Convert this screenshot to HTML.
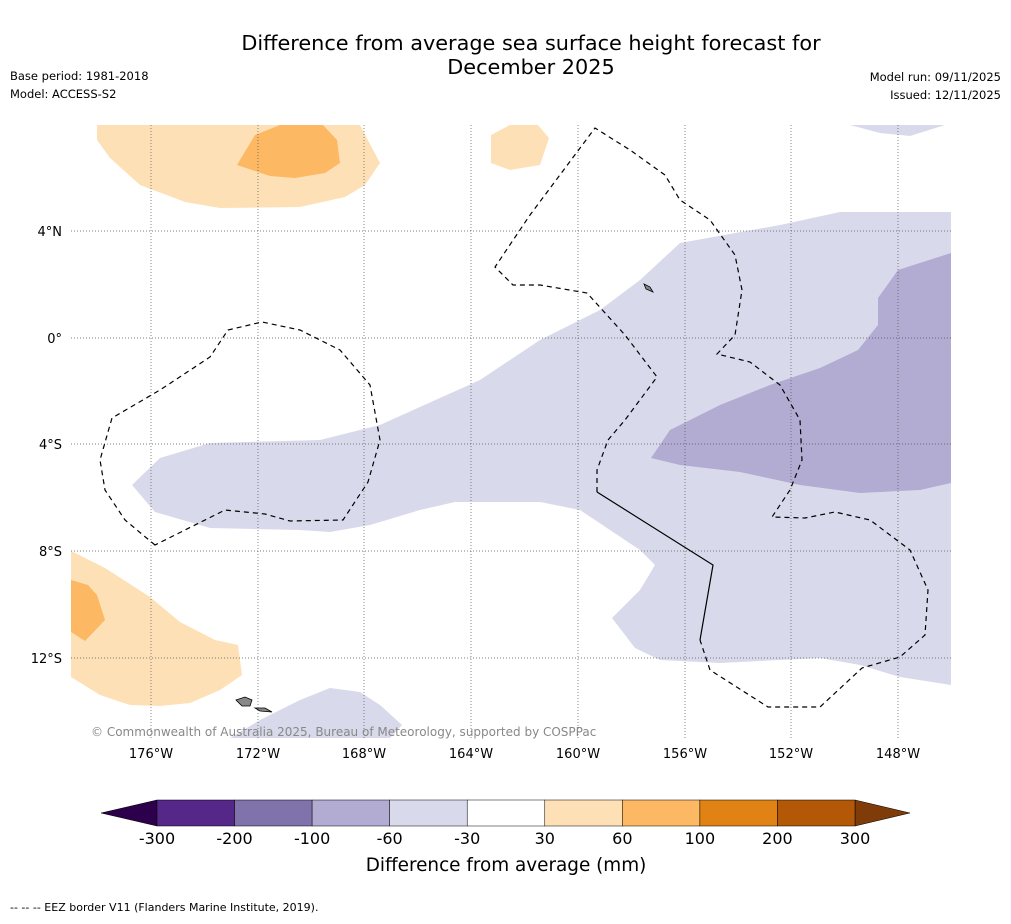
<!DOCTYPE html>
<html><head><meta charset="utf-8"><style>
body{margin:0;background:#fff;font-family:"Liberation Sans","DejaVu Sans",sans-serif;}
</style></head><body>
<svg width="1011" height="919" viewBox="0 0 1011 919" xmlns="http://www.w3.org/2000/svg" font-family="'DejaVu Sans','Liberation Sans',sans-serif">
<rect width="1011" height="919" fill="#fff"/>
<text x="531" y="50" text-anchor="middle" font-size="20.8">Difference from average sea surface height forecast for</text>
<text x="531" y="74" text-anchor="middle" font-size="20.8">December 2025</text>
<text x="10" y="80" font-size="11.5">Base period: 1981-2018</text>
<text x="10" y="98" font-size="11.5">Model: ACCESS-S2</text>
<text x="1001" y="81" font-size="11.5" text-anchor="end">Model run: 09/11/2025</text>
<text x="1001" y="99" font-size="11.5" text-anchor="end">Issued: 12/11/2025</text>
<g>
<clipPath id="mc"><rect x="71" y="125" width="880" height="613"/></clipPath>
<g clip-path="url(#mc)">
<path fill="#d8daeb" d="M132,485 L160,458 L210,443 L320,440 L380,425 L480,380 L540,340 L600,310 L640,280 L680,243 L780,225 L840,212 L951,212 L951,685 L900,677 L860,665 L820,658 L720,663 L660,660 L635,648 L612,618 L640,590 L655,565 L640,550 L610,530 L580,510 L540,502 L455,502 L420,510 L370,525 L330,532 L300,530 L210,528 L155,512 Z M745,567 L752,559 L770,566 L760,569 Z M230,738 L260,720 L300,700 L330,688 L360,692 L380,705 L402,725 L390,738 Z M780,125 L850,125 L880,133 L910,136 L945,125 Z"/>
<path fill="#b2abd2" d="M651,458 L670,430 L720,405 L770,385 L820,368 L858,350 L878,325 L878,298 L898,270 L951,253 L951,483 L920,490 L860,493 L800,485 L740,472 L680,465 Z"/>
<path fill="#fee0b6" d="M97,125 L360,125 L380,163 L365,185 L345,197 L300,207 L220,208 L185,202 L140,185 L110,158 L97,140 Z M491,135 L510,125 L538,125 L549,138 L540,165 L510,170 L491,163 Z M71,551 L105,568 L150,597 L180,622 L215,640 L238,645 L242,675 L220,690 L190,703 L160,706 L130,705 L100,695 L71,677 Z"/>
<path fill="#fdb863" d="M237,165 L255,135 L280,125 L323,125 L337,140 L340,163 L325,173 L295,178 L270,176 Z M71,580 L88,585 L97,595 L105,620 L85,641 L71,632 Z"/>
<g stroke="#555" stroke-width="0.7" stroke-dasharray="1,2">
<line x1="151" y1="125" x2="151" y2="738"/><line x1="258" y1="125" x2="258" y2="738"/><line x1="364" y1="125" x2="364" y2="738"/><line x1="471" y1="125" x2="471" y2="738"/><line x1="578" y1="125" x2="578" y2="738"/><line x1="685" y1="125" x2="685" y2="738"/><line x1="791" y1="125" x2="791" y2="738"/><line x1="898" y1="125" x2="898" y2="738"/>
<line x1="71" y1="231" x2="951" y2="231"/><line x1="71" y1="338" x2="951" y2="338"/><line x1="71" y1="444" x2="951" y2="444"/><line x1="71" y1="551" x2="951" y2="551"/><line x1="71" y1="658" x2="951" y2="658"/>
</g>
<g fill="none" stroke="#000" stroke-width="1.2">
<path stroke-dasharray="5,4" d="M155,545 L125,520 L105,490 L100,460 L112,418 L160,390 L210,357 L228,330 L262,322 L300,330 L340,350 L370,385 L380,440 L368,482 L343,520 L290,521 L265,514 L225,510 Z"/>
<path stroke-dasharray="5,4" d="M597,492 L597,470 L608,440 L625,420 L657,377 L625,335 L587,293 L540,285 L513,285 L495,267 L530,215 L595,128 L630,150 L665,175 L680,200 L710,220 L735,255 L742,290 L735,335 L717,354 L750,362 L780,385 L800,420 L802,460 L790,490 L772,517 L805,518 L835,512 L870,520 L910,550 L928,590 L925,635 L900,657 L862,668 L820,707 L768,707 L710,670 L700,640"/>
<path d="M597,492 L713,565 L700,640"/>
</g>
<g fill="#888" stroke="#000" stroke-width="0.8">
<path d="M236,700 L245,697 L252,700 L250,706 L242,706 Z"/><path d="M255,708 L265,708 L272,712 L260,711 Z"/>
<path d="M644,284 L650,287 L653,292 L646,289 Z"/>
</g>
</g>
<text x="91" y="736" font-size="12" fill="#888">© Commonwealth of Australia 2025, Bureau of Meteorology, supported by COSPPac</text>
</g>
<g font-size="13">
<text x="151" y="758" text-anchor="middle">176°W</text><text x="258" y="758" text-anchor="middle">172°W</text><text x="364" y="758" text-anchor="middle">168°W</text><text x="471" y="758" text-anchor="middle">164°W</text><text x="578" y="758" text-anchor="middle">160°W</text><text x="685" y="758" text-anchor="middle">156°W</text><text x="791" y="758" text-anchor="middle">152°W</text><text x="898" y="758" text-anchor="middle">148°W</text>
<text x="62" y="236" text-anchor="end">4°N</text><text x="62" y="343" text-anchor="end">0°</text><text x="62" y="449" text-anchor="end">4°S</text><text x="62" y="556" text-anchor="end">8°S</text><text x="62" y="663" text-anchor="end">12°S</text>
</g>
<g id="cb"></g>
<text x="506" y="871" text-anchor="middle" font-size="18.4">Difference from average (mm)</text>
<text x="10" y="911" font-size="11">--  --  -- EEZ border V11 (Flanders Marine Institute, 2019).</text>
</svg>
<script>
const cbTicks=["-300","-200","-100","-60","-30","30","60","100","200","300"];
const cbColors=["#542788","#8073ac","#b2abd2","#d8daeb","#ffffff","#fee0b6","#fdb863","#e08214","#b35806"];
const cb=document.getElementById('cb');
const ns="http://www.w3.org/2000/svg";
const x0=157,x1=855,y0=800,y1=826,w=(x1-x0)/cbColors.length;
function mk(t,a){const e=document.createElementNS(ns,t);for(const k in a)e.setAttribute(k,a[k]);cb.appendChild(e);return e;}
let lt=mk('polygon',{points:`${x0},${y0} ${x0},${y1} 101,813`,fill:'#2d004b',stroke:'#000','stroke-width':0.5});


let rt=mk('polygon',{points:`${x1},${y0} ${x1},${y1} 910,813`,fill:'#7f3b08',stroke:'#000','stroke-width':0.5});


cbColors.forEach((c,i)=>{
 const r=mk('rect',{x:x0+i*w,y:y0,width:w,height:y1-y0,fill:c,stroke:'#000','stroke-width':0.5});
 
 
});
cbTicks.forEach((t,i)=>{
 const tx=mk('text',{x:x0+i*w,y:844,'text-anchor':'middle','font-size':16});
 tx.textContent=t;
 
 
});
</script>
</body></html>
